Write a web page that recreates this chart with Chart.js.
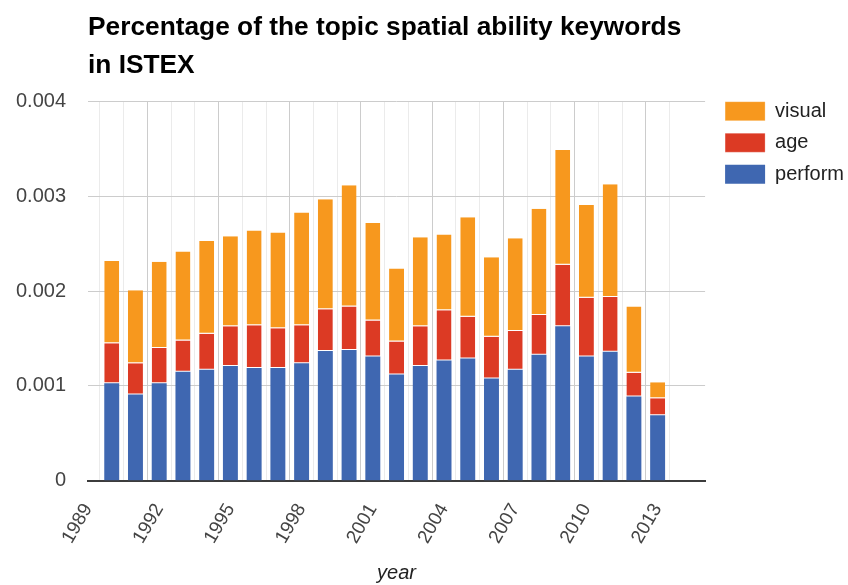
<!DOCTYPE html>
<html><head><meta charset="utf-8">
<script src="https://cdn.jsdelivr.net/npm/chart.js@4.4.1/dist/chart.umd.min.js"></script>
<style>html,body{margin:0;padding:0;background:#fff;}canvas{display:block;}</style>
</head><body>
<canvas id="c" width="848" height="585"></canvas>
<script>
const years = [1990,1991,1992,1993,1994,1995,1996,1997,1998,1999,2000,2001,2002,2003,2004,2005,2006,2007,2008,2009,2010,2011,2012,2013];
const perform = [0.00103,0.00091,0.00103,0.00115,0.00117,0.00121,0.00119,0.00119,0.00124,0.00137,0.00138,0.00131,0.00112,0.00121,0.00127,0.00129,0.00108,0.00117,0.00133,0.00163,0.00131,0.00136,0.00089,0.00069];
const age = [0.00042,0.00033,0.00037,0.00033,0.00038,0.00042,0.00045,0.00042,0.00040,0.00044,0.00046,0.00038,0.00035,0.00042,0.00053,0.00044,0.00044,0.00041,0.00042,0.00065,0.00062,0.00058,0.00025,0.00018];
const visual = [0.00087,0.00077,0.00091,0.00094,0.00098,0.00095,0.00100,0.00101,0.00119,0.00116,0.00128,0.00103,0.00077,0.00094,0.00080,0.00105,0.00084,0.00098,0.00112,0.00121,0.00098,0.00119,0.00070,0.00017];
const xTickLabels = ['1989','1992','1995','1998','2001','2004','2007','2010','2013'];
const yTickLabels = ['0','0.001','0.002','0.003','0.004'];
const titleLines = ['Percentage of the topic spatial ability keywords','in ISTEX'];

const FONT = "'Liberation Sans', Arial, sans-serif";
const toXY = arr => years.map((yr, i) => ({x: yr, y: arr[i]}));

new Chart(document.getElementById('c'), {
  type: 'bar',
  data: {
    datasets: [
      {label: 'perform', data: toXY(perform), backgroundColor: '#3f67b1', borderColor: '#ffffff', borderWidth: 0, borderSkipped: false},
      {label: 'age', data: toXY(age), backgroundColor: '#dc3a24', borderColor: '#ffffff', borderWidth: {top: 0, left: 0, right: 0, bottom: 1}, borderSkipped: false},
      {label: 'visual', data: toXY(visual), backgroundColor: '#f7981e', borderColor: '#ffffff', borderWidth: {top: 0, left: 0, right: 0, bottom: 1}, borderSkipped: false}
    ]
  },
  options: {
    responsive: false,
    animation: false,
    devicePixelRatio: 1,
    barPercentage: 0.63,
    categoryPercentage: 1,
    layout: {padding: {left: 0, right: -6, top: 0, bottom: 0}},
    plugins: {
      tooltip: {enabled: false},
      title: {
        display: true,
        text: titleLines,
        align: 'start',
        fullSize: false,
        color: '#000000',
        font: {family: FONT, size: 26.3, weight: 'bold', lineHeight: 1.45},
        padding: {top: 9, bottom: 16.5}
      },
      legend: {
        position: 'right',
        align: 'start',
        reverse: true,
        title: {display: true, text: '', padding: 0, font: {size: 10, lineHeight: 8.97}},
        labels: {
          boxWidth: 40, boxHeight: 19, padding: 11.5,
          color: '#222222',
          font: {family: FONT, size: 20}
        }
      }
    },
    scales: {
      x: {
        type: 'linear',
        stacked: true,
        min: 1989, max: 2015,
        offset: false,
        afterFit: s => { s.height = 104.3; },
        ticks: {
          stepSize: 1,
          autoSkip: false,
          minRotation: 60, maxRotation: 60,
          padding: 19,
          color: '#444444',
          font: {family: FONT, size: 19},
          callback: v => xTickLabels.includes(String(v)) ? String(v) : ''
        },
        grid: {
          drawTicks: false,
          color: c => {
            const v = c.tick && c.tick.value;
            if (v === 2015) return 'rgba(0,0,0,0)';
            return xTickLabels.includes(String(v)) ? '#cccccc' : '#ebebeb';
          }
        },
        border: {display: true, color: '#3c3c3c', width: 2},
        title: {
          display: true, text: 'year', color: '#222222',
          font: {family: FONT, size: 20, style: 'italic', lineHeight: 1.2},
          padding: {top: 0, bottom: 0}
        }
      },
      y: {
        stacked: true,
        min: 0, max: 0.004,
        afterFit: s => { s.width = 88; },
        ticks: {
          stepSize: 0.001,
          padding: 22,
          color: '#444444',
          font: {family: FONT, size: 20},
          callback: (v, i) => yTickLabels[i]
        },
        grid: {drawTicks: false, color: '#cccccc'},
        border: {display: false}
      },
      y2: {
        position: 'right',
        display: true,
        afterFit: s => { s.width = 8.5; },
        ticks: {display: false},
        grid: {display: false, drawTicks: false},
        border: {display: false}
      }
    }
  }
});
</script>
</body></html>
